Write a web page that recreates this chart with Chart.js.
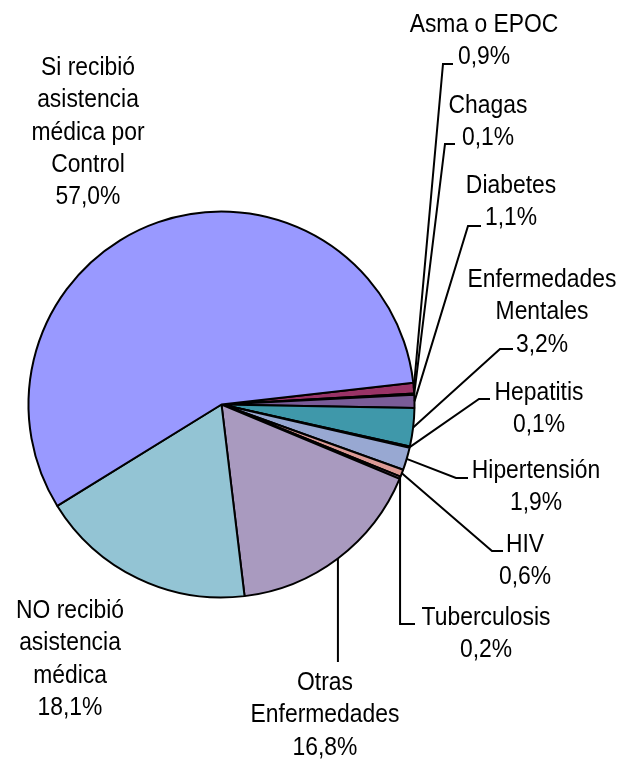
<!DOCTYPE html>
<html>
<head>
<meta charset="utf-8">
<script src="https://cdn.jsdelivr.net/npm/chart.js@4"></script>
<style>
  body { margin: 0; background: #fff; }
  canvas { display: block; }
</style>
</head>
<body>
<canvas id="pieChart" width="637" height="765"></canvas>
<script>
// data (clockwise, starting at ~3 o'clock)
const categories = [
    'Asma o EPOC', 'Chagas', 'Diabetes', 'Enfermedades\nMentales', 'Hepatitis',
    'Hipertensión', 'HIV', 'Tuberculosis', 'Otras\nEnfermedades',
    'NO recibió\nasistencia\nmédica', 'Si recibió\nasistencia\nmédica por\nControl'
];
const percentages = [0.9, 0.1, 1.1, 3.2, 0.1, 1.9, 0.6, 0.2, 16.8, 18.1, 57.0];

const sliceColors = [
    '#993366', '#6f4f8f', '#7a5c98', '#3f98aa', '#5a7fb0',
    '#98a8d2', '#dc9a96', '#8c6a8c', '#a99abf', '#93c4d4', '#9999ff'
];

// label layout: text centre x, first baseline y, leader elbow / end (null = no leader)
const labelLayout = [
    { x: 484, y: 32,  elbow: [443, 64],  end: [453, 64] },
    { x: 488, y: 113, elbow: [445, 144], end: [455, 144] },
    { x: 511, y: 193, elbow: [468, 226], end: [481, 226] },
    { x: 542, y: 287, elbow: [500, 349], end: [513, 349] },
    { x: 539, y: 400, elbow: [479, 399], end: [490, 399] },
    { x: 536, y: 478, elbow: [456, 478], end: [468, 478] },
    { x: 525, y: 552, elbow: [492, 551], end: [503, 551] },
    { x: 486, y: 625, elbow: [null, 624], end: [415, 624] },
    { x: 325, y: 690, elbow: [null, 662], end: null },
    { x: 70,  y: 618, elbow: null, end: null },
    { x: 88,  y: 75,  elbow: null, end: null }
];

const lineHeight = 32.3;

const labelPlugin = {
    id: 'pieLabels',
    afterDatasetsDraw(chart) {
        const ctx = chart.ctx;
        const arcs = chart.getDatasetMeta(0).data;
        ctx.save();
        ctx.strokeStyle = '#000';
        ctx.lineWidth = 2;
        ctx.fillStyle = '#000';
        ctx.font = '25px "Liberation Sans", Arial, sans-serif';
        ctx.textAlign = 'center';
        ctx.textBaseline = 'alphabetic';
        arcs.forEach((arc, i) => {
            const lay = labelLayout[i];
            if (lay.elbow) {
                const p = arc.getProps(['x', 'y', 'startAngle', 'endAngle', 'outerRadius'], true);
                const mid = (p.startAngle + p.endAngle) / 2;
                const sx = p.x + Math.cos(mid) * p.outerRadius;
                const sy = p.y + Math.sin(mid) * p.outerRadius;
                const ex = lay.elbow[0] === null ? sx : lay.elbow[0];
                ctx.beginPath();
                ctx.moveTo(sx, sy);
                ctx.lineTo(ex, lay.elbow[1]);
                if (lay.end) ctx.lineTo(lay.end[0], lay.end[1]);
                ctx.stroke();
            }
            const lines = categories[i].split('\n');
            lines.push(percentages[i].toFixed(1).replace('.', ',') + '%');
            lines.forEach((txt, k) => {
                ctx.save();
                ctx.translate(lay.x, lay.y + k * lineHeight);
                ctx.scale(0.915, 1);
                ctx.fillText(txt, 0, 0);
                ctx.restore();
            });
        });
        ctx.restore();
    }
};

const ctx = document.getElementById('pieChart').getContext('2d');
const chart = new Chart(ctx, {
    type: 'pie',
    data: {
        labels: categories,
        datasets: [{
            data: percentages,
            backgroundColor: sliceColors,
            borderColor: '#000',
            borderWidth: 2
        }]
    },
    options: {
        responsive: false,
        animation: false,
        rotation: 83.5,
        layout: {
            padding: { left: 27.5, right: 221.5, top: 210.5, bottom: 166.5 }
        },
        plugins: {
            legend: { display: false },
            tooltip: { enabled: false }
        }
    },
    plugins: [labelPlugin]
});
</script>
</body>
</html>
